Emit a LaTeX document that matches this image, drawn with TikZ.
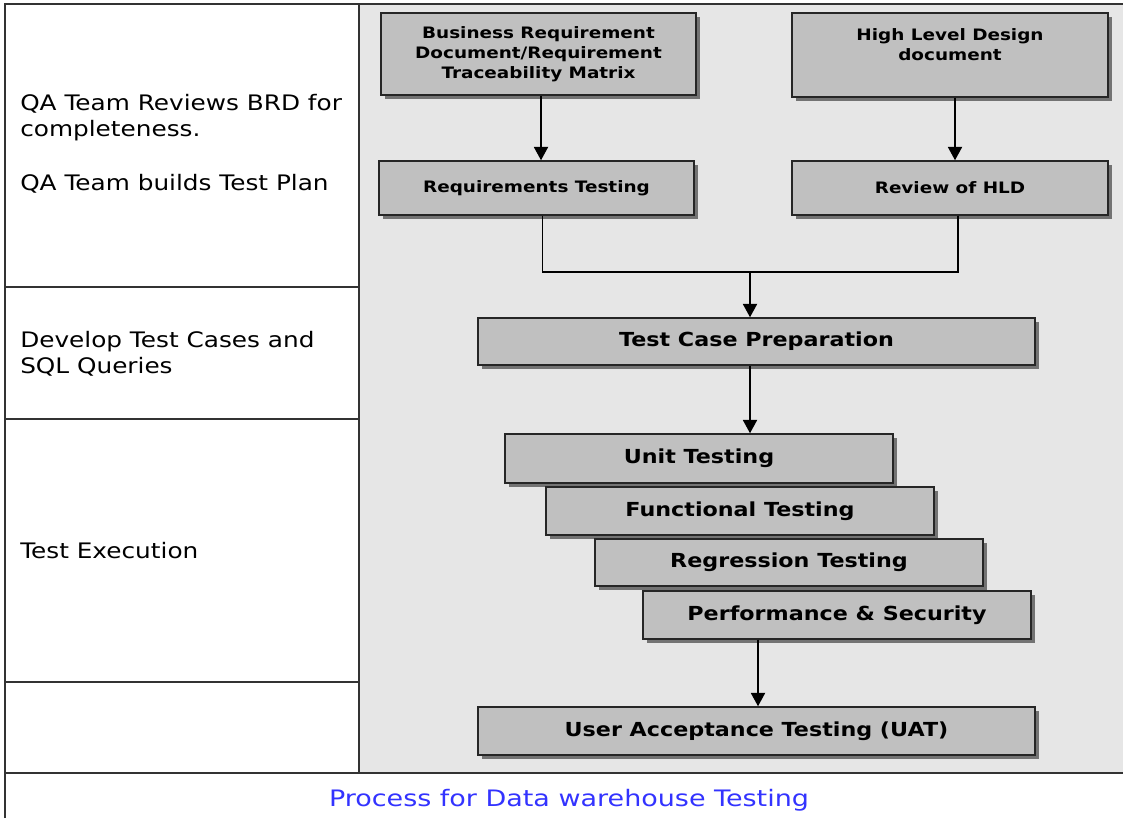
\documentclass[tikz,border=0pt]{standalone}
\usepackage{fontspec}
\setmainfont{DejaVu Sans}
\newfontfamily\smallboxfont[FakeStretch=1.17]{DejaVu Sans}
\newfontfamily\bigboxfont[FakeStretch=1.15]{DejaVu Sans}
\newfontfamily\sidefont[FakeStretch=1.16]{DejaVu Sans}
\newfontfamily\capfont[FakeStretch=1.19]{DejaVu Sans}
\usetikzlibrary{arrows.meta,shadows,calc}
\definecolor{panel}{HTML}{E6E6E6}
\definecolor{boxfill}{HTML}{C0C0C0}
\definecolor{frame}{HTML}{333333}
\definecolor{capblue}{HTML}{3333FF}
\tikzset{
  stepbox/.style={draw=black!85,line width=1.1pt,fill=boxfill,inner sep=0pt,
    drop shadow={shadow xshift=3pt,shadow yshift=-3pt,fill=black!55,opacity=1}},
  smalltxt/.style={font=\smallboxfont\bfseries\fontsize{11.8}{15}\selectfont,align=center},
  bigtxt/.style={font=\bigboxfont\bfseries\fontsize{14.5}{17}\selectfont},
  arr/.style={line width=1.4pt,-{Triangle[width=10.5pt,length=10pt]}},
  conn/.style={line width=1.2pt},
  sidetxt/.style={font=\sidefont\fontsize{16}{19.5}\selectfont,align=left,anchor=west,inner sep=0pt},
  framel/.style={draw=frame,line width=1.3pt}
}
\begin{document}
\begin{tikzpicture}[x=0.75pt,y=-0.75pt]
\useasboundingbox (0,0) rectangle (1123,818);
\fill[white] (0,0) rectangle (1123,818);
\fill[panel] (359,4) rectangle (1123,773);
% frame
\draw[framel] (5,818) -- (5,4) -- (1123,4);
\draw[framel] (359,4) -- (359,773);
\draw[framel] (5,287) -- (359,287);
\draw[framel] (5,419) -- (359,419);
\draw[framel] (5,682) -- (359,682);
\draw[framel] (5,773) -- (1123,773);
% side texts
\node[sidetxt] (s1) at (20,118) {QA Team Reviews BRD for\\completeness.};
\node[sidetxt] (s2) at (20,184) {QA Team builds Test Plan};
\node[sidetxt] (s3) at (20,354) {Develop Test Cases and\\SQL Queries};
\node[sidetxt] (s4) at (20,551) {Test Execution};
% boxes
\node[stepbox,smalltxt,minimum width=236.25pt,minimum height=61.5pt] (brd) at (538.5,54)
  {Business Requirement\\Document/Requirement\\Traceability Matrix};
\node[stepbox,smalltxt,minimum width=237pt,minimum height=63pt] (hld) at (950,55)
  {High Level Design\\document\\\mbox{}};
\node[stepbox,smalltxt,minimum width=236.25pt,minimum height=40.5pt] (req) at (536.5,188)
  {Requirements Testing};
\node[stepbox,smalltxt,minimum width=237pt,minimum height=40.5pt] (rhld) at (950,188)
  {Review of HLD};
\node[stepbox,bigtxt,minimum width=417.75pt,minimum height=35.25pt] (tcp) at (756.5,341.5)
  {Test Case Preparation};
\node[stepbox,bigtxt,minimum width=291pt,minimum height=36.75pt] (unit) at (699,458.5)
  {Unit Testing};
\node[stepbox,bigtxt,minimum width=291pt,minimum height=36pt] (func) at (740,511)
  {Functional Testing};
\node[stepbox,bigtxt,minimum width=291pt,minimum height=35.25pt] (reg) at (789,562.5)
  {Regression Testing};
\node[stepbox,bigtxt,minimum width=291pt,minimum height=36pt] (perf) at (837,615)
  {Performance \& Security};
\node[stepbox,bigtxt,minimum width=417.75pt,minimum height=36pt] (uat) at (756.5,731)
  {User Acceptance Testing (UAT)};
% connectors
\coordinate (join) at (750,272);
\draw[arr] ($(brd.south)+(2.5,0)$) -- ($(brd.south |- req.north)+(2.5,0)$);
\draw[arr] ($(hld.south)+(5,0)$) -- ($(hld.south |- rhld.north)+(5,0)$);
\draw[conn] ($(req.south)+(6,0)$) |- (join);
\draw[conn] ($(rhld.south)+(8,0)$) |- (join);
\draw[arr] (join) -- (join |- tcp.north);
\draw[arr] (join |- tcp.south) -- (join |- unit.north);
\draw[arr] ($(uat.north |- perf.south)+(1.5,0)$) -- ($(uat.north)+(1.5,0)$);
% caption
\node[font=\capfont\fontsize{17}{20}\selectfont,text=capblue] (cap) at (569,800) {Process for Data warehouse Testing};
\end{tikzpicture}
\end{document}
